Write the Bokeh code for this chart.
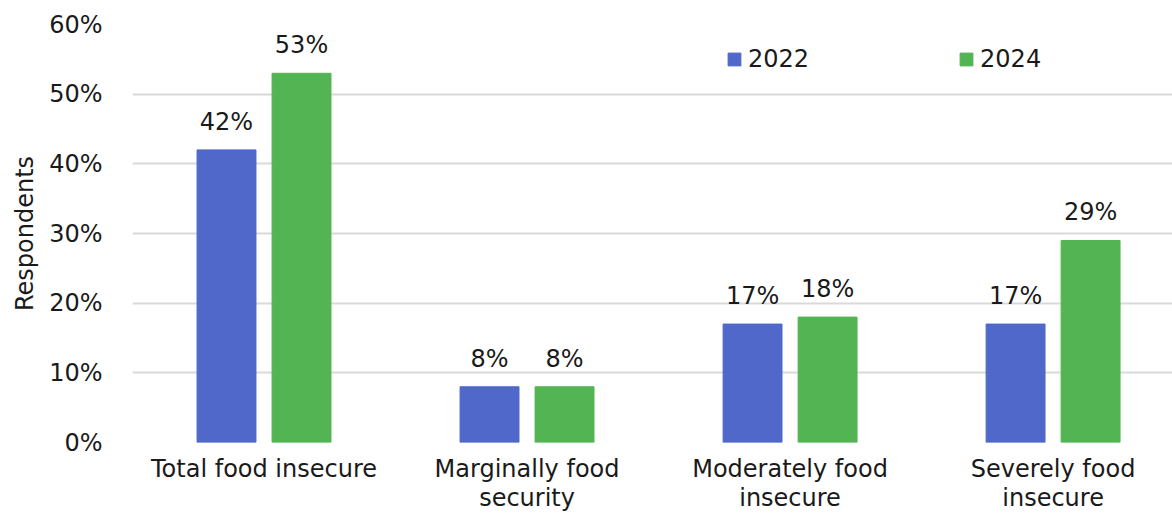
from bokeh.plotting import figure
from bokeh.models import ColumnDataSource, Range1d, FixedTicker, LabelSet, Legend, LegendItem
from bokeh.core.properties import value
from bokeh.transform import dodge
from bokeh.embed import file_html
from bokeh.resources import INLINE

categories = ["Total food insecure", "Marginally food\nsecurity", "Moderately food\ninsecure", "Severely food\ninsecure"]
years = ["2022", "2024"]
values_2022 = [42, 8, 17, 17]
values_2024 = [53, 8, 18, 29]
y_ticks = [0, 10, 20, 30, 40, 50, 60]
y_tick_labels = ["0%", "10%", "20%", "30%", "40%", "50%", "60%"]
colors = ["#4F68C9", "#52B453"]

FONT = "DejaVu Sans"
TEXT = "#1a1a1a"

xpos = [i + 0.5 for i in range(len(categories))]
src = ColumnDataSource(dict(
    x=xpos,
    v2022=values_2022,
    v2024=values_2024,
    l2022=[f"{v}%" for v in values_2022],
    l2024=[f"{v}%" for v in values_2024],
))

p = figure(width=1172, height=521, output_backend="svg", toolbar_location=None,
           x_range=Range1d(0, 3.954), y_range=Range1d(0, 60),
           min_border_left=132, min_border_right=0, min_border_top=24, min_border_bottom=79)
p.outline_line_color = None

bw = 0.224
off = 0.1426
r1 = p.vbar(x=dodge("x", -off), top="v2022", width=bw, source=src, color=colors[0])
r2 = p.vbar(x=dodge("x", off), top="v2024", width=bw, source=src, color=colors[1])

for col, o in (("2022", -off), ("2024", off)):
    lab = LabelSet(x=dodge("x", o), y="v" + col, text="l" + col, source=src,
                   text_align="center", text_baseline="alphabetic", y_offset=20,
                   text_font=value(FONT), text_font_size=value("24px"), text_color=value(TEXT))
    p.add_layout(lab)

# axes
p.xaxis.ticker = FixedTicker(ticks=xpos)
p.xaxis.major_label_overrides = {x: c for x, c in zip(xpos, categories)}
p.xaxis.axis_line_color = None
p.xaxis.major_tick_line_color = None
p.xaxis.minor_tick_line_color = None
p.xaxis.major_label_standoff = 6
p.xaxis.major_label_text_font = FONT
p.xaxis.major_label_text_font_size = "24px"
p.xaxis.major_label_text_color = TEXT
p.xaxis.major_label_text_line_height = 1.05

p.yaxis.ticker = FixedTicker(ticks=y_ticks)
p.yaxis.major_label_overrides = {t: l for t, l in zip(y_ticks, y_tick_labels)}
p.yaxis.axis_line_color = None
p.yaxis.major_tick_line_color = None
p.yaxis.minor_tick_line_color = None
p.yaxis.major_label_standoff = 24
p.yaxis.major_label_text_font = FONT
p.yaxis.major_label_text_font_size = "24px"
p.yaxis.major_label_text_color = TEXT
p.yaxis.axis_label = "Respondents"
p.yaxis.axis_label_text_font = FONT
p.yaxis.axis_label_text_font_size = "24px"
p.yaxis.axis_label_text_font_style = "normal"
p.yaxis.axis_label_text_color = TEXT
p.yaxis.axis_label_standoff = 7

p.xgrid.grid_line_color = None
p.ygrid.grid_line_color = "#d9d9d9"
p.ygrid.grid_line_width = 2

legend = Legend(items=[LegendItem(label=years[0], renderers=[r1]),
                       LegendItem(label=years[1], renderers=[r2])],
                location=(594, 369), orientation="horizontal",
                glyph_width=16, glyph_height=16, label_standoff=6, spacing=149,
                padding=0, margin=0, border_line_color=None, background_fill_alpha=0,
                label_text_font=FONT, label_text_font_size="24px", label_text_color=TEXT)
p.add_layout(legend)

open("out.html", "w").write(file_html(p, INLINE))
